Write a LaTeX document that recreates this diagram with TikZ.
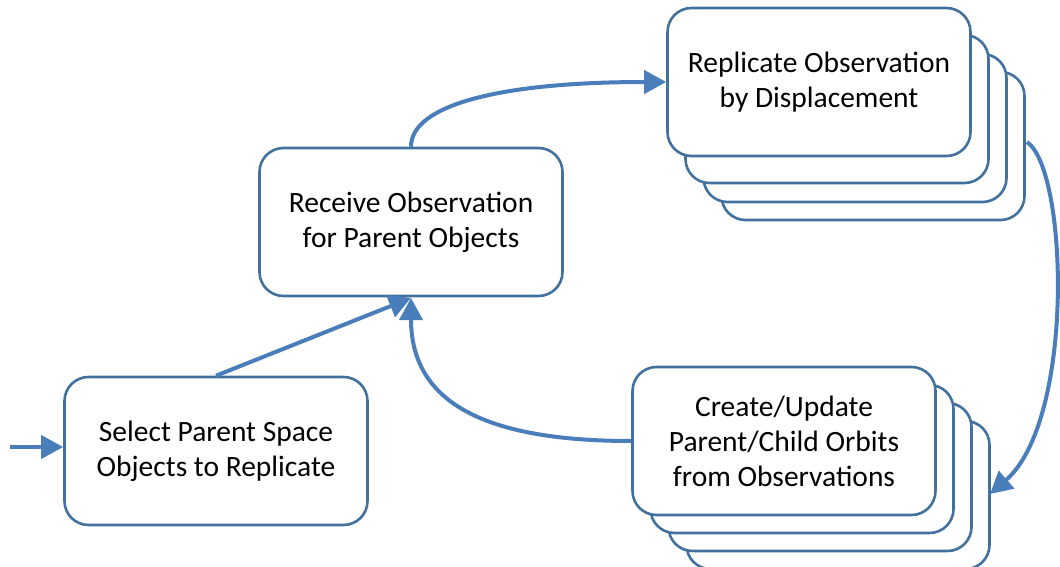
\documentclass[tikz,border=0pt]{standalone}
\usepackage{fontspec}
\setmainfont{Carlito}
\usetikzlibrary{arrows.meta}
\definecolor{boxc}{HTML}{41719C}
\definecolor{arrc}{HTML}{4A7EBB}
\tikzset{
  pbox/.style={draw=boxc, line width=2.6pt, rounded corners=24pt, fill=white,
    minimum width=303pt, minimum height=148pt, align=center, inner sep=0pt,
    font=\fontsize{29.5}{35}\selectfont},
  conn/.style={draw=arrc, line width=4pt, -{Triangle[length=22pt,width=23pt]}},
}
\begin{document}
\begin{tikzpicture}[x=1pt,y=-1pt]
\useasboundingbox (0,0) rectangle (1060,567);
\begin{scope}
\clip (0,0) rectangle (1060,567);
% Replicate stack
\node[pbox] (rep3) at (873,146) {};
\node[pbox] (rep2) at (855,128) {};
\node[pbox] (rep1) at (837,109) {};
\node[pbox] (rep) at (819,82) {Replicate Observation\\by Displacement};
% Create stack
\node[pbox] (cre3) at (838,495) {};
\node[pbox] (cre2) at (820,477) {};
\node[pbox] (cre1) at (802,459) {};
\node[pbox] (cre) at (784,441) {Create/Update\\Parent/Child Orbits\\from Observations};
% others
\node[pbox] (sel) at (216,451) {Select Parent Space\\Objects to Replicate};
\node[pbox] (rec) at (411,222) {Receive Observation\\for Parent Objects};
\coordinate (start) at (10,447);
\coordinate (repout) at (1027,142);
\coordinate (crein) at (990,494);
\coordinate (recin) at (411,298);
\draw[conn] (start) -- (sel.west |- start);
\draw[conn] (sel.north) -- (recin);
\draw[conn] (rec.north) .. controls (411,105) and (500,82) .. (rep.west);
\draw[conn] (repout) .. controls (1068,170) and (1075,420) .. (crein);
\draw[conn] (cre.west) .. controls (480,441) and (411,400) .. (recin);
\end{scope}
\end{tikzpicture}
\end{document}
